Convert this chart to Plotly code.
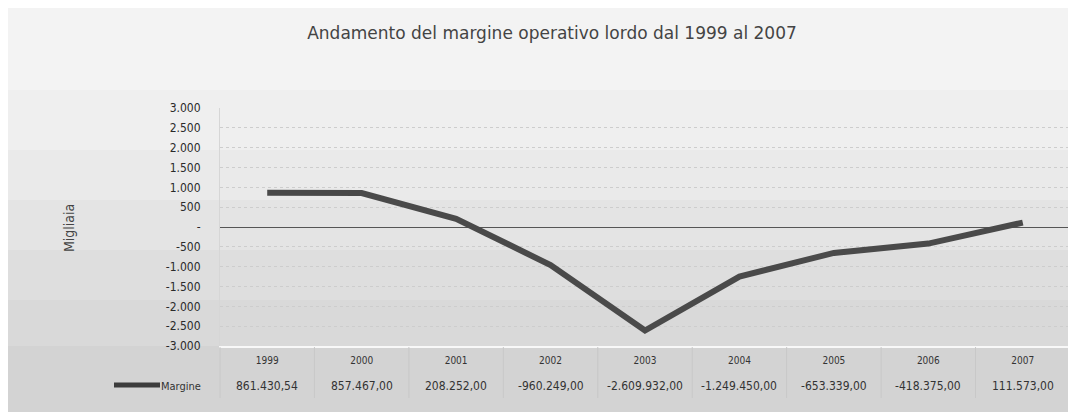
import plotly.graph_objects as go

# ---- data ----
years = ["1999", "2000", "2001", "2002", "2003", "2004", "2005", "2006", "2007"]
margine_euro = [861430.54, 857467.00, 208252.00, -960249.00, -2609932.00,
                -1249450.00, -653339.00, -418375.00, 111573.00]
series_name = "Margine"
y_ticks = [3000, 2500, 2000, 1500, 1000, 500, 0, -500, -1000, -1500, -2000, -2500, -3000]
title_text = "Andamento del margine operativo lordo dal 1999 al 2007"
y_title = "Migliaia"

margine_k = [v / 1000 for v in margine_euro]


def it_num(v, dec=0):
    s = f"{v:,.{dec}f}"
    return s.replace(",", "#").replace(".", ",").replace("#", ".")


def tick_label(v):
    return "-" if v == 0 else it_num(v)


FONT = "DejaVu Sans Condensed, DejaVu Sans, sans-serif"
OFF = 8  # page body margin
W, H = 1076 - OFF, 412 - OFF
L, T = 220 - OFF, 108 - OFF
R = 6
B = H - (346 - OFF)
PH = H - T - B
PW = W - L - R


def py(pix):  # page pixel y -> paper y
    return (H - B - (pix - OFF)) / PH


def px(pix):  # page pixel x -> paper x
    return (pix - OFF - L) / PW


fig = go.Figure()
fig.add_trace(go.Scatter(
    x=list(range(len(years))), y=margine_k, mode="lines", name=series_name,
    line=dict(color="#4a4a4a", width=6, shape="linear"),
    showlegend=False,
))

shapes = []
# scanned-paper background: light at top, darker toward bottom
bands = [(0, 90, "#f3f3f3"), (90, 150, "#efefef"), (150, 200, "#eaeaea"),
         (200, 250, "#e4e4e4"), (250, 300, "#dedede"), (300, 346, "#d9d9d9"),
         (346, 420, "#d3d3d3")]
for y0, y1, c in bands:
    shapes.append(dict(type="rect", xref="paper", yref="paper", x0=px(0), x1=px(1080),
                       y0=py(y1), y1=py(y0), fillcolor=c, line_width=0, layer="below"))
# legend key in data table
shapes.append(dict(type="line", xref="paper", yref="paper", x0=px(114), x1=px(160),
                   y0=py(385), y1=py(385), line=dict(color="#3c3c3c", width=5)))
# faint table separators
for i in range(len(years) + 1):
    xp = i / len(years)
    shapes.append(dict(type="line", xref="paper", yref="paper", x0=xp, x1=xp,
                       y0=py(347), y1=py(398), line=dict(color="#c8c8c8", width=1)))

annotations = [
    dict(text=y_title, xref="paper", yref="paper", x=px(69), y=py(228), textangle=-90,
         showarrow=False, font=dict(family=FONT, size=14, color="#444"),
         xanchor="center", yanchor="middle"),
    dict(text=series_name, xref="paper", yref="paper", x=px(159), y=py(386),
         showarrow=False, font=dict(family=FONT, size=11, color="#333"),
         xanchor="left", yanchor="middle"),
]
for i, v in enumerate(margine_euro):
    annotations.append(dict(text=it_num(v, 2), x=i, xref="x", yref="paper", y=py(386),
                            showarrow=False, font=dict(family=FONT, size=12, color="#333"),
                            xanchor="center", yanchor="middle"))

fig.update_layout(
    width=W, height=H,
    margin=dict(l=L, r=R, t=T, b=B, pad=0),
    paper_bgcolor="#f3f3f3",
    plot_bgcolor="rgba(0,0,0,0)",
    title=dict(text=title_text, x=px(552), xanchor="center", xref="paper",
               y=1 - (33 - OFF) / H, yref="container", yanchor="middle",
               font=dict(family="DejaVu Sans, sans-serif", size=17, color="#444")),
    xaxis=dict(showgrid=False, zeroline=False,
               showline=True, linecolor="#f8f8f8", linewidth=2,
               tickmode="array", tickvals=list(range(len(years))), ticktext=years,
               ticks="outside", ticklen=4, tickcolor="rgba(0,0,0,0)",
               tickfont=dict(family=FONT, size=10, color="#333"),
               range=[-0.5, len(years) - 0.5]),
    yaxis=dict(range=[-3000, 3000], tickvals=y_ticks, ticktext=[tick_label(v) for v in y_ticks],
               showgrid=True, gridcolor="#cdcdcd", griddash="dot", gridwidth=1,
               zeroline=True, zerolinecolor="#555", zerolinewidth=1,
               showline=True, linecolor="#d6d6d6", linewidth=1,
               ticks="outside", ticklen=16, tickcolor="rgba(0,0,0,0)",
               tickfont=dict(family=FONT, size=12, color="#2a2a2a")),
    shapes=shapes,
    annotations=annotations,
)

fig.write_html("out.html")
